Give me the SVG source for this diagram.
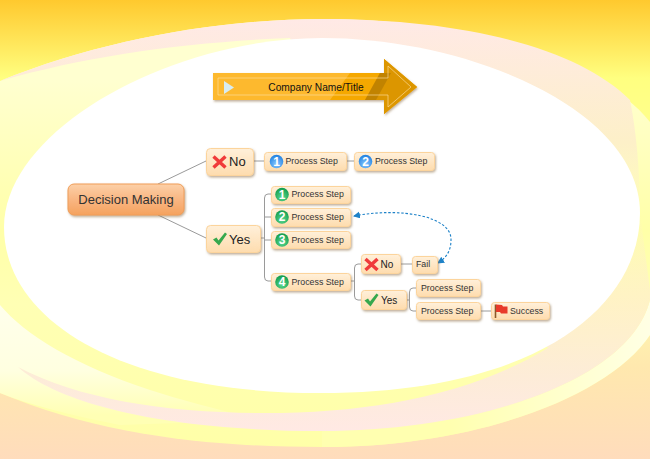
<svg xmlns="http://www.w3.org/2000/svg" width="650" height="459" viewBox="0 0 650 459">
<defs>
<linearGradient id="bg" x1="0" y1="0" x2="0" y2="459" gradientUnits="userSpaceOnUse"><stop offset="0" stop-color="#ffc92e"/><stop offset="0.17" stop-color="#ffff80"/><stop offset="0.6" stop-color="#ffffb0"/><stop offset="0.8" stop-color="#ffe8ae"/><stop offset="1" stop-color="#ffdcbc"/></linearGradient>
<linearGradient id="inner" x1="0" y1="80" x2="0" y2="447" gradientUnits="userSpaceOnUse"><stop offset="0" stop-color="#ffffd0"/><stop offset="0.41" stop-color="#ffffa8"/><stop offset="0.61" stop-color="#ffffb4"/><stop offset="1" stop-color="#ffffa8"/></linearGradient>
<linearGradient id="paleL" x1="0" y1="305" x2="0" y2="415" gradientUnits="userSpaceOnUse"><stop offset="0" stop-color="#ffffec"/><stop offset="0.6" stop-color="#ffffe0"/><stop offset="1" stop-color="#ffffb4"/></linearGradient>
<linearGradient id="paleR" x1="650" y1="0" x2="450" y2="0" gradientUnits="userSpaceOnUse"><stop offset="0" stop-color="#ffffe4"/><stop offset="1" stop-color="#ffffb0"/></linearGradient>
<linearGradient id="band" x1="0" y1="19" x2="0" y2="431" gradientUnits="userSpaceOnUse"><stop offset="0" stop-color="#ffe9e6"/><stop offset="0.3" stop-color="#fdf0c8"/><stop offset="0.47" stop-color="#fdf0c8" stop-opacity="0"/><stop offset="0.67" stop-color="#fff3c4"/><stop offset="0.87" stop-color="#fdecd8"/><stop offset="1" stop-color="#ffe9e4"/></linearGradient>
<linearGradient id="nd" x1="0" y1="0" x2="0" y2="1"><stop offset="0" stop-color="#fff0da"/><stop offset="1" stop-color="#fedcae"/></linearGradient>
<linearGradient id="rt" x1="0" y1="0" x2="0" y2="1"><stop offset="0" stop-color="#fcd0a8"/><stop offset="0.5" stop-color="#f9b682"/><stop offset="1" stop-color="#f5a25e"/></linearGradient>
<radialGradient id="blue" cx="0.5" cy="0.7" r="0.7"><stop offset="0" stop-color="#8cc8ff"/><stop offset="1" stop-color="#1c7fe0"/></radialGradient>
<radialGradient id="green" cx="0.5" cy="0.7" r="0.7"><stop offset="0" stop-color="#5cd890"/><stop offset="1" stop-color="#0e9a4a"/></radialGradient>
<filter id="sh" x="-15%" y="-20%" width="130%" height="150%"><feDropShadow dx="1" dy="1.5" stdDeviation="0.8" flood-color="#8a6a40" flood-opacity="0.55"/></filter>
<marker id="ah" markerWidth="8" markerHeight="8" refX="6" refY="3.5" orient="auto-start-reverse" markerUnits="userSpaceOnUse"><path d="M0,0 L7,3.5 L0,7 Z" fill="#1e82c8"/></marker>
<g id="x"><path d="M-6,-5.500 L6,5.500 M6,-5.500 L-6,5.500" stroke="#f03a3a" stroke-width="3.400" fill="none"/></g>
<g id="ck"><path d="M-7,0.500 L-3.500,-1.500 L-1.500,1.500 L5,-6.500 L7,-5 L-1,6.500 Z" fill="#36a84e"/></g>
</defs>
<style>
.n{fill:url(#nd);stroke:#fcd49c;stroke-width:1;filter:url(#sh)}
.t{font-family:"Liberation Sans",Arial,sans-serif;fill:#333;font-size:8.800px}
.big{font-size:13px;fill:#222}
.md{font-size:10px;fill:#222}
.num{font-family:"Liberation Sans",Arial,sans-serif;font-weight:bold;font-size:12px;fill:#fff;text-anchor:middle}
.c{fill:none;stroke:#9a9a9a;stroke-width:1}
</style>
<g id="background">
<rect width="650" height="459" fill="url(#bg)"/>
<path d="M0,81 C100,40 220,19 322,19 C470,19 600,60 650,122 L650,335 C610,395 480,447 322,447 C210,447 100,435 0,393 Z" fill="url(#inner)"/>
<path d="M0,305 C25,335 75,365 150,390 C180,400 220,410 260,420 L120,425 C70,415 30,405 0,393 Z" fill="url(#paleL)"/>
<path d="M650,300 C630,380 480,431 322,431 L322,447 C480,447 610,395 650,335 Z" fill="url(#paleR)"/>
<path d="M0,81 C100,40 220,19 322,19 C470,19 580,50 630,100 C636,130 640,170 640,213 L650,290 L650,300 C630,380 480,431 322,431 C170,431 60,405 18,367 C80,400 170,413 265,413 C370,413 470,395 548,348 L322,100 L290,38 C190,42 90,55 0,81 Z" fill="url(#band)"/>
<path d="M322,38 C470,38 640,110 640,213 C640,305 540,393 320,393 C120,393 4,320 4,227 C4,130 170,38 322,38 Z" fill="#fff"/>
</g>

<g id="title-arrow">
<path d="M213,73 L384,73 L384,59 L417,87 L384,114 L384,100 L213,100 Z" fill="#fdb92e" filter="url(#sh)"/>
<path d="M330,100 L350,73 L384,73 L384,59 L417,87 L384,114 L384,100 Z" fill="#f5a800"/>
<path d="M365,100 L380,73 L384,73 L384,59 L417,87 L384,114 L384,100 Z" fill="#dc9600"/>
<path d="M365,100 L380,73 L391,73 L376,100 Z" fill="#b87c00" opacity="0.750"/>
<path d="M218,78 L388,78 L388,66 L411,87 L388,107 L388,95 L218,95 Z" fill="none" stroke="#ffe0a0" stroke-width="0.800" opacity="0.800"/>
<path d="M224,81 L234,87.500 L224,94 Z" fill="#d8ecf0"/>
<text class="t" x="316" y="91" style="font-size:10.200px;fill:#111" text-anchor="middle">Company Name/Title</text>
</g>

<g id="connectors">
<path class="c" d="M158,184 L206,161"/>
<path class="c" d="M158,215 L206,238"/>
<path class="c" d="M254,161 L264,161"/>
<path class="c" d="M347,161 L354,161"/>
<path class="c" d="M261,238 L264.500,238"/>
<path class="c" d="M271,194 L268,194 Q264.500,194 264.500,198 L264.500,277 Q264.500,281 268,281 L271,281"/>
<path class="c" d="M264.500,217 L271,217"/>
<path class="c" d="M264.500,240 L271,240"/>
<path class="c" d="M351,281 L354.500,281"/>
<path class="c" d="M361,264 L358,264 Q354.500,264 354.500,268 L354.500,296 Q354.500,300 358,300 L361,300"/>
<path class="c" d="M401,264 L412,264"/>
<path class="c" d="M407,300 L409.500,300"/>
<path class="c" d="M416,288 L413,288 Q409.500,288 409.500,292 L409.500,307 Q409.500,311 413,311 L416,311"/>
<path class="c" d="M481,311 L491,311"/>
<path d="M354,216 C400,207 452,216 451,240 C451,251 446,258 438,263" fill="none" stroke="#1e82c8" stroke-width="1.100" stroke-dasharray="2.500 1.800" marker-start="url(#ah)" marker-end="url(#ah)"/>
</g>

<g id="root"><rect x="68" y="184" width="116" height="31" rx="6" fill="url(#rt)" stroke="#f09d58" filter="url(#sh)"/><text class="t" style="font-size:13px;fill:#333" x="126" y="204" text-anchor="middle">Decision Making</text></g>

<g id="no"><rect class="n" x="206.500" y="148.500" width="47" height="27" rx="4"/><use href="#x" x="219.500" y="162"/><text class="t big" x="229" y="166">No</text></g>
<g id="yes"><rect class="n" x="206.500" y="225.500" width="54" height="27" rx="4"/><use href="#ck" x="220" y="239"/><text class="t big" x="229" y="243.500">Yes</text></g>

<g id="no-1"><rect class="n" x="264.500" y="152.500" width="82" height="18" rx="3"/><circle cx="276.500" cy="161.500" r="6.800" fill="url(#blue)"/><text class="num" x="276.500" y="165.800">1</text><text class="t" x="285.500" y="164">Process Step</text></g>
<g id="no-2"><rect class="n" x="354.500" y="152.500" width="80" height="18" rx="3"/><circle cx="365.500" cy="161.500" r="6.800" fill="url(#blue)"/><text class="num" x="365.500" y="165.800">2</text><text class="t" x="375" y="164">Process Step</text></g>

<g id="yes-1"><rect class="n" x="271.500" y="186.500" width="79" height="17" rx="3"/><circle cx="282" cy="194.500" r="6.800" fill="url(#green)"/><text class="num" x="282" y="198.800">1</text><text class="t" x="291.500" y="197">Process Step</text></g>
<g id="yes-2"><rect class="n" x="271.500" y="208.500" width="79" height="18" rx="3"/><circle cx="282" cy="217" r="6.800" fill="url(#green)"/><text class="num" x="282" y="221.300">2</text><text class="t" x="291.500" y="220">Process Step</text></g>
<g id="yes-3"><rect class="n" x="271.500" y="231.500" width="79" height="17" rx="3"/><circle cx="282" cy="240" r="6.800" fill="url(#green)"/><text class="num" x="282" y="244.300">3</text><text class="t" x="291.500" y="243">Process Step</text></g>
<g id="yes-4"><rect class="n" x="271.500" y="273.500" width="79" height="17" rx="3"/><circle cx="282" cy="282" r="6.800" fill="url(#green)"/><text class="num" x="282" y="286.300">4</text><text class="t" x="291.500" y="284.500">Process Step</text></g>

<g id="no-b"><rect class="n" x="361.500" y="254.500" width="39" height="19" rx="3"/><use href="#x" x="371.500" y="264.500"/><text class="t md" x="380.500" y="268">No</text></g>
<g id="fail"><rect class="n" x="412.500" y="256.500" width="25" height="17" rx="3"/><text class="t" x="416" y="267">Fail</text></g>
<g id="yes-b"><rect class="n" x="361.500" y="290.500" width="45" height="19" rx="3"/><use href="#ck" x="371.500" y="300"/><text class="t md" x="381" y="304">Yes</text></g>
<g id="step-a"><rect class="n" x="416.500" y="279.500" width="64" height="17" rx="3"/><text class="t" x="421" y="291">Process Step</text></g>
<g id="step-b"><rect class="n" x="416.500" y="302.500" width="64" height="17" rx="3"/><text class="t" x="421" y="314">Process Step</text></g>
<g id="success"><rect class="n" x="491.500" y="302.500" width="58" height="17" rx="3"/><path d="M495.500,304.500 V318" stroke="#8a5a2a" stroke-width="1.600"/><path d="M496,304.500 L502,305 L503,306.500 L507.500,306.500 L507.500,313.500 L501,313.500 L500,312 L496,312 Z" fill="#e83a2a"/><text class="t" x="510" y="314">Success</text></g>
</svg>
